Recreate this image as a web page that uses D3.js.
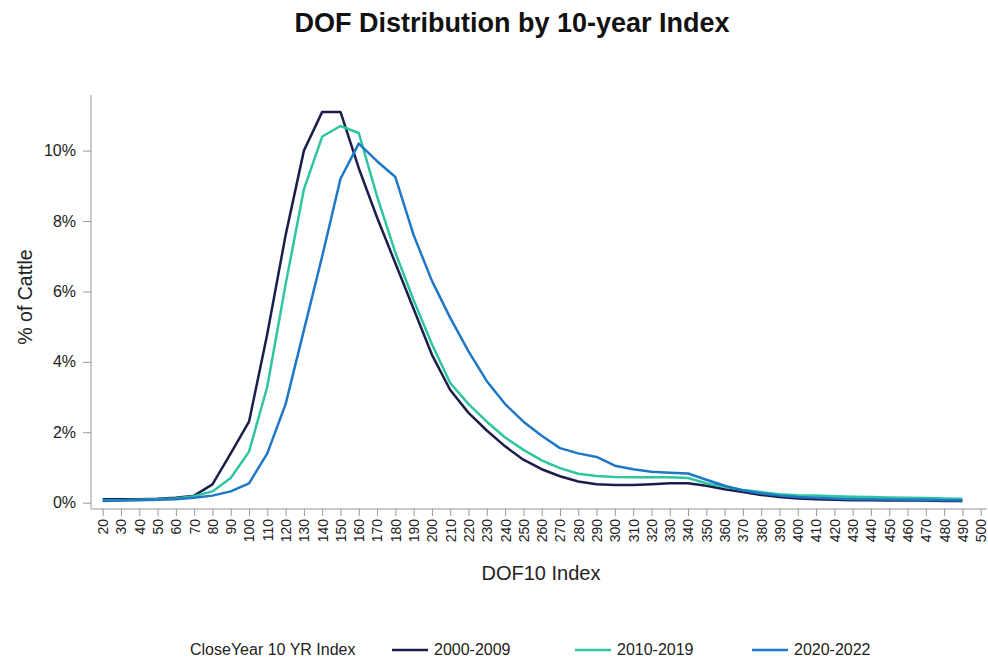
<!DOCTYPE html>
<html lang="en">
<head>
    <meta charset="UTF-8">
    <title>DOF Distribution by 10-year Index</title>
    <script src="https://d3js.org/d3.v7.min.js"></script>
    <style>
        body { margin: 0; background: #fff; }
        svg { display: block; font-family: "Liberation Sans", Arial, sans-serif; }
    </style>
</head>
<body>
    <div id="chart"></div>

    <script>
        // DOF10 index buckets (x ticks) and the buckets that carry data
        const tickLabels = d3.range(20, 501, 10);
        const dofIndex = d3.range(20, 491, 10);

        // % of cattle per bucket
        const y2000 = [0.10, 0.10, 0.10, 0.11, 0.14, 0.20, 0.52, 1.40, 2.30, 4.80,
                       7.60, 10.00, 11.10, 11.10, 9.50, 8.10, 6.80, 5.50, 4.20, 3.20,
                       2.55, 2.05, 1.60, 1.22, 0.95, 0.75, 0.60, 0.52, 0.50, 0.50,
                       0.52, 0.55, 0.55, 0.48, 0.38, 0.30, 0.22, 0.16, 0.12, 0.10,
                       0.08, 0.07, 0.07, 0.06, 0.06, 0.06, 0.05, 0.05];
        const y2010 = [0.06, 0.07, 0.08, 0.10, 0.12, 0.18, 0.32, 0.70, 1.45, 3.30,
                       6.20, 8.90, 10.40, 10.70, 10.50, 8.70, 7.10, 5.75, 4.50, 3.40,
                       2.80, 2.30, 1.85, 1.50, 1.20, 0.98, 0.82, 0.76, 0.73, 0.72,
                       0.72, 0.72, 0.70, 0.55, 0.45, 0.36, 0.30, 0.24, 0.21, 0.20,
                       0.18, 0.17, 0.16, 0.15, 0.14, 0.13, 0.12, 0.11];
        const y2020 = [0.05, 0.06, 0.07, 0.08, 0.10, 0.14, 0.20, 0.32, 0.55, 1.40,
                       2.80, 4.90, 7.00, 9.20, 10.20, 9.70, 9.25, 7.60, 6.30, 5.25,
                       4.30, 3.45, 2.80, 2.30, 1.90, 1.55, 1.40, 1.30, 1.05, 0.95,
                       0.88, 0.85, 0.83, 0.65, 0.48, 0.35, 0.26, 0.20, 0.16, 0.14,
                       0.12, 0.10, 0.10, 0.09, 0.08, 0.08, 0.07, 0.07];

        const seriesNames = ["2000-2009", "2010-2019", "2020-2022"];
        const seriesColors = ["#1b1e4b", "#2ec5a0", "#1f77c8"];
        const yTicks = [0, 2, 4, 6, 8, 10];

        const series = seriesNames.map((name, i) => ({
            name: name,
            color: seriesColors[i],
            values: [y2000, y2010, y2020][i].map((v, j) => ({ x: dofIndex[j], y: v }))
        }));

        const width = 988;
        const height = 661;

        const svg = d3.select("#chart").append("svg")
            .attr("width", width)
            .attr("height", height);

        const x = d3.scalePoint()
            .domain(tickLabels)
            .range([102.7, 980.7]);

        const y = d3.scaleLinear()
            .domain([-0.18, 11.58])
            .range([509, 95]);

        // title
        svg.append("text")
            .attr("x", 512)
            .attr("y", 32)
            .attr("text-anchor", "middle")
            .attr("font-size", 27)
            .attr("font-weight", "bold")
            .attr("fill", "#111")
            .text("DOF Distribution by 10-year Index");

        // y axis
        const yAxis = svg.append("g")
            .attr("transform", "translate(91,0)")
            .call(d3.axisLeft(y).tickValues(yTicks).tickSize(8).tickPadding(7)
                .tickFormat(d => d + "%"));
        yAxis.select(".domain").remove();
        yAxis.selectAll(".tick line").attr("stroke", "#999");
        yAxis.selectAll(".tick text")
            .attr("font-size", 16)
            .attr("fill", "#222")
            .attr("font-family", "Liberation Sans, Arial, sans-serif");
        svg.append("line")
            .attr("x1", 91).attr("x2", 91)
            .attr("y1", y.range()[1]).attr("y2", y.range()[0])
            .attr("stroke", "#999");

        // x axis
        const xAxis = svg.append("g")
            .attr("transform", "translate(0,509)")
            .call(d3.axisBottom(x).tickSize(7).tickPadding(0));
        xAxis.select(".domain").remove();
        xAxis.selectAll(".tick line").attr("stroke", "#999");
        xAxis.selectAll(".tick text")
            .attr("font-size", 14)
            .attr("fill", "#222")
            .attr("font-family", "Liberation Sans, Arial, sans-serif")
            .attr("text-anchor", "end")
            .attr("dy", "0.35em")
            .attr("transform", "translate(0,10) rotate(-90)")
            .attr("x", 0).attr("y", 0);
        svg.append("line")
            .attr("x1", 91).attr("x2", 987)
            .attr("y1", 509).attr("y2", 509)
            .attr("stroke", "#999");

        // axis titles
        svg.append("text")
            .attr("x", 541)
            .attr("y", 580)
            .attr("text-anchor", "middle")
            .attr("font-size", 20)
            .attr("fill", "#222")
            .text("DOF10 Index");

        svg.append("text")
            .attr("transform", "translate(32,297) rotate(-90)")
            .attr("text-anchor", "middle")
            .attr("font-size", 19.5)
            .attr("fill", "#222")
            .text("% of Cattle");

        // lines
        const line = d3.line()
            .x(d => x(d.x))
            .y(d => y(d.y));

        svg.selectAll(".series")
            .data(series)
            .enter()
            .append("path")
            .attr("class", "series")
            .attr("d", d => line(d.values))
            .attr("fill", "none")
            .attr("stroke", d => d.color)
            .attr("stroke-width", 2.5)
            .attr("stroke-linejoin", "round");

        // legend
        const legend = svg.append("g").attr("font-size", 16).attr("fill", "#222");
        legend.append("text")
            .attr("x", 190).attr("y", 655)
            .text("CloseYear 10 YR Index");

        const legendX = [392, 575, 752];
        series.forEach((s, i) => {
            legend.append("line")
                .attr("x1", legendX[i]).attr("x2", legendX[i] + 36)
                .attr("y1", 650).attr("y2", 650)
                .attr("stroke", s.color)
                .attr("stroke-width", 2.5);
            legend.append("text")
                .attr("x", legendX[i] + 42).attr("y", 655)
                .text(s.name);
        });
    </script>
</body>
</html>
